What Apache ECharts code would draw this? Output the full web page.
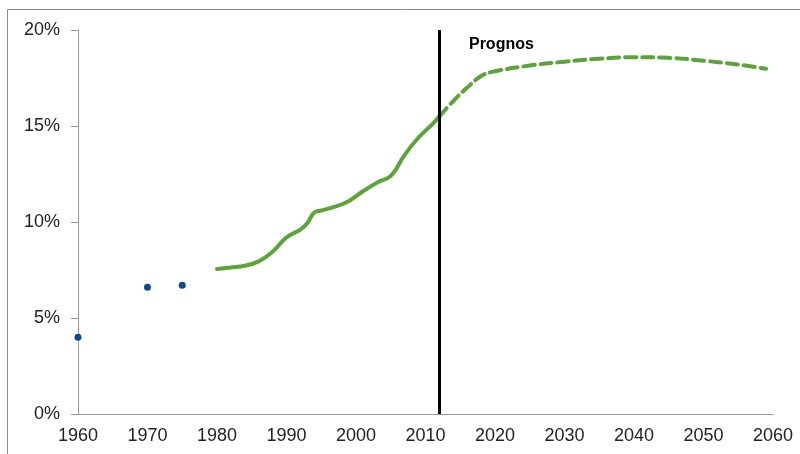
<!DOCTYPE html>
<html>
<head>
<meta charset="utf-8">
<script src="https://cdn.jsdelivr.net/npm/echarts@6/dist/echarts.min.js"></script>
<style>
html, body { margin: 0; padding: 0; background: #fff; }
#chartDiv { width: 800px; height: 454px; }
</style>
</head>
<body>
<div id="chartDiv"></div>
<script>
// early single observations
var dotYears = [1960, 1970, 1975];
var dotValues = [4.0, 6.6, 6.7];

// historic (solid)
var histYears = [1980, 1982, 1984, 1986, 1988, 1990, 1992, 1993, 1994, 1995, 1997, 1999, 2001, 2003, 2005, 2007, 2009, 2011, 2012];
var histValues = [7.55, 7.63, 7.72, 7.95, 8.45, 9.2, 9.6, 9.95, 10.5, 10.6, 10.8, 11.1, 11.6, 12.05, 12.4, 13.5, 14.4, 15.1, 15.5];

// prognos (dashed)
var progYears = [2012, 2014, 2016, 2018, 2020, 2025, 2030, 2035, 2040, 2045, 2050, 2055, 2059];
var progValues = [15.5, 16.3, 17.0, 17.6, 17.85, 18.15, 18.35, 18.5, 18.58, 18.55, 18.4, 18.2, 17.98];

var yTicks = [0, 5, 10, 15, 20];
var prognosYear = 2012;
var prognosLabel = 'Prognos';

var GREEN = '#5ca33a';
var BLUE = '#0b4a8c';
var FONT = 'Liberation Sans';

function pairs(xs, ys) {
	var out = [];
	for (var i = 0; i < xs.length; i++) {
		out.push([xs[i], ys[i]]);
	}
	return out;
}

var chart = echarts.init(document.getElementById('chartDiv'));
chart.setOption({
	animation: false,
	backgroundColor: '#fff',
	grid: { left: 78, right: 27, top: 30, bottom: 40 },
	graphic: [{
		type: 'rect',
		shape: { x: 7.5, y: 9.5, width: 820, height: 460 },
		style: { fill: null, stroke: '#8a8a8a', lineWidth: 1 },
		silent: true
	}],
	xAxis: {
		type: 'value',
		min: 1960,
		max: 2060,
		interval: 10,
		splitLine: { show: false },
		axisTick: { show: false },
		axisLine: { lineStyle: { color: '#999', width: 1 } },
		axisLabel: {
			color: '#222', fontFamily: FONT, fontSize: 18, margin: 13,
			formatter: function (v) { return String(v); }
		}
	},
	yAxis: {
		type: 'value',
		min: yTicks[0],
		max: yTicks[yTicks.length - 1],
		interval: 5,
		splitLine: { show: false },
		axisLine: { show: true, lineStyle: { color: '#999', width: 1 } },
		axisTick: { show: true, length: 7, lineStyle: { color: '#999' } },
		axisLabel: { color: '#222', fontFamily: FONT, fontSize: 18, margin: 18, formatter: '{value}%' }
	},
	series: [
		{
			type: 'scatter',
			data: pairs(dotYears, dotValues),
			symbolSize: 7,
			itemStyle: { color: BLUE, opacity: 1 },
			z: 5
		},
		{
			type: 'line',
			data: pairs(histYears, histValues),
			smooth: 0.4,
			showSymbol: false,
			lineStyle: { color: GREEN, width: 4, cap: 'round' },
			markLine: {
				silent: true,
				symbol: 'none',
				lineStyle: { color: '#000', width: 3, type: 'solid' },
				label: {
					show: true,
					position: 'end',
					formatter: prognosLabel,
					color: '#000',
					fontFamily: FONT,
					fontWeight: 'bold',
					fontSize: 16,
					offset: [62, 28]
				},
				data: [{ xAxis: prognosYear }]
			},
			z: 3
		},
		{
			type: 'line',
			data: pairs(progYears, progValues),
			smooth: 0.4,
			showSymbol: false,
			lineStyle: { color: GREEN, width: 4, type: [11, 6], cap: 'round' },
			z: 3
		}
	]
});
</script>
</body>
</html>
